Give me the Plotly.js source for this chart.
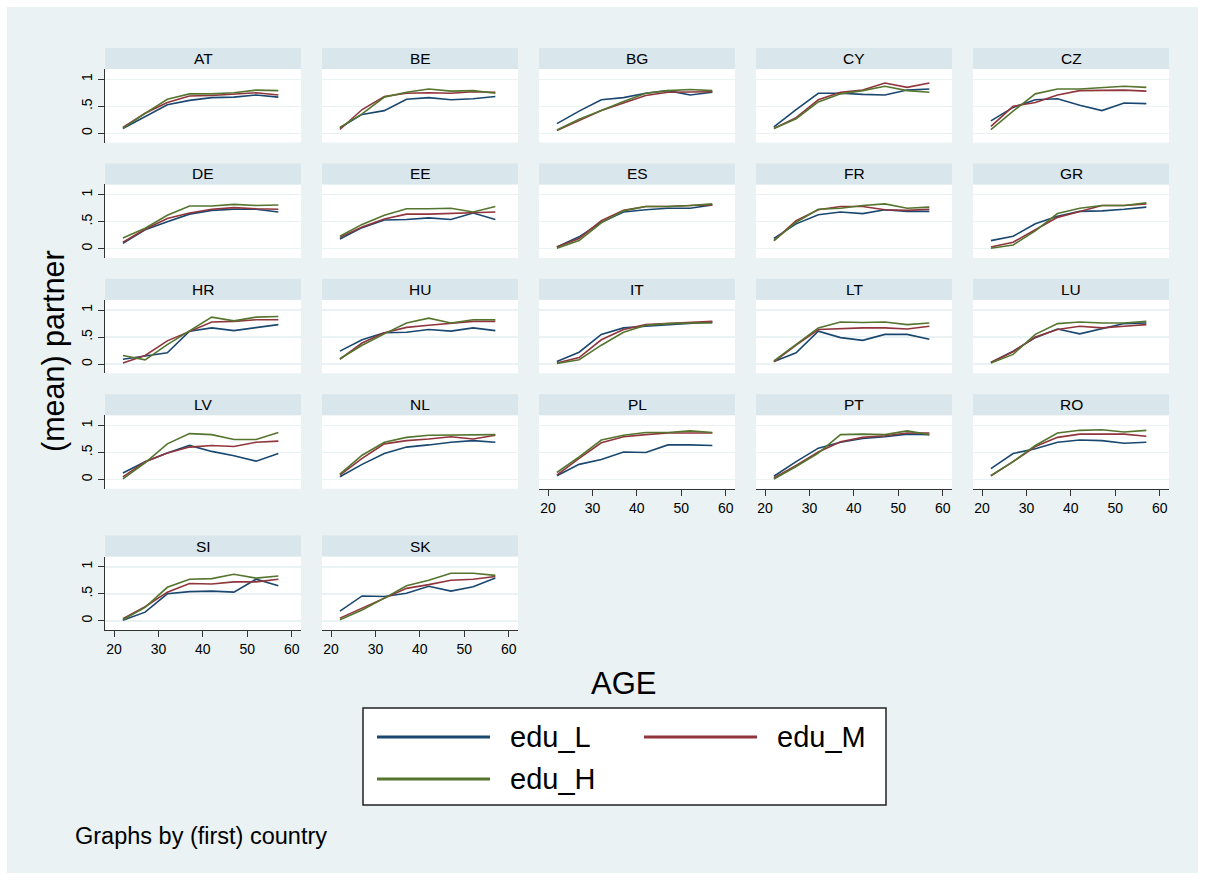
<!DOCTYPE html>
<html><head><meta charset="utf-8">
<script src="https://cdn.plot.ly/plotly-3.0.1.min.js"></script>
<style>html,body{margin:0;padding:0;background:#ffffff;}#chart{position:absolute;left:7px;top:7px;width:1191px;height:866px;}</style>
</head><body><div id="chart"></div>
<script>
// ---- data ----
const ages = [22, 27, 32, 37, 42, 47, 52, 57];
const countries = ['AT','BE','BG','CY','CZ','DE','EE','ES','FR','GR','HR','HU','IT','LT','LU','LV','NL','PL','PT','RO','SI','SK'];
const seriesNames = ['edu_L', 'edu_M', 'edu_H'];
const xTicks = [20, 30, 40, 50, 60];
const yTickVals = [0, 0.5, 1];
const yTickText = ['0', '.5', '1'];

const AT_L = [0.09,0.31,0.53,0.61,0.66,0.67,0.71,0.67];
const AT_M = [0.11,0.37,0.57,0.69,0.70,0.72,0.75,0.71];
const AT_H = [0.09,0.37,0.63,0.73,0.73,0.75,0.80,0.79];
const BE_L = [0.10,0.35,0.42,0.63,0.66,0.62,0.64,0.68];
const BE_M = [0.07,0.44,0.68,0.74,0.75,0.74,0.77,0.76];
const BE_H = [0.11,0.36,0.67,0.76,0.82,0.78,0.79,0.74];
const BG_L = [0.18,0.41,0.62,0.66,0.74,0.79,0.71,0.76];
const BG_M = [0.05,0.23,0.42,0.56,0.70,0.76,0.76,0.77];
const BG_H = [0.06,0.26,0.42,0.59,0.74,0.79,0.81,0.79];
const CY_L = [0.12,0.44,0.74,0.74,0.72,0.71,0.80,0.82];
const CY_M = [0.09,0.29,0.62,0.76,0.80,0.93,0.85,0.93];
const CY_H = [0.09,0.27,0.58,0.73,0.79,0.87,0.79,0.76];
const CZ_L = [0.23,0.48,0.62,0.64,0.52,0.42,0.56,0.55];
const CZ_M = [0.13,0.50,0.57,0.71,0.79,0.79,0.80,0.78];
const CZ_H = [0.07,0.41,0.73,0.82,0.82,0.85,0.87,0.85];
const DE_L = [0.10,0.35,0.50,0.64,0.71,0.73,0.73,0.68];
const DE_M = [0.12,0.36,0.56,0.66,0.73,0.76,0.74,0.73];
const DE_H = [0.20,0.38,0.62,0.79,0.79,0.82,0.80,0.81];
const EE_L = [0.18,0.39,0.53,0.54,0.57,0.54,0.66,0.54];
const EE_M = [0.21,0.40,0.55,0.64,0.64,0.65,0.66,0.68];
const EE_H = [0.23,0.45,0.62,0.74,0.74,0.75,0.68,0.78];
const ES_L = [0.03,0.22,0.49,0.68,0.72,0.75,0.75,0.81];
const ES_M = [0.03,0.19,0.52,0.71,0.78,0.78,0.80,0.81];
const ES_H = [0.01,0.15,0.48,0.70,0.78,0.78,0.80,0.83];
const FR_L = [0.19,0.46,0.63,0.68,0.65,0.72,0.69,0.69];
const FR_M = [0.15,0.52,0.72,0.78,0.78,0.72,0.71,0.73];
const FR_H = [0.15,0.49,0.73,0.75,0.80,0.83,0.75,0.77];
const GR_L = [0.15,0.23,0.46,0.60,0.69,0.70,0.73,0.77];
const GR_M = [0.03,0.12,0.35,0.58,0.69,0.80,0.80,0.83];
const GR_H = [0.01,0.07,0.33,0.65,0.75,0.80,0.80,0.85];
const HR_L = [0.09,0.15,0.21,0.61,0.67,0.62,0.67,0.73];
const HR_M = [0.02,0.16,0.43,0.61,0.78,0.79,0.82,0.82];
const HR_H = [0.16,0.08,0.36,0.62,0.87,0.80,0.87,0.88];
const HU_L = [0.24,0.45,0.58,0.59,0.64,0.61,0.67,0.62];
const HU_M = [0.09,0.39,0.58,0.68,0.72,0.76,0.79,0.79];
const HU_H = [0.10,0.35,0.56,0.76,0.85,0.76,0.82,0.82];
const IT_L = [0.05,0.22,0.55,0.67,0.70,0.73,0.76,0.78];
const IT_M = [0.02,0.12,0.45,0.64,0.73,0.75,0.78,0.79];
const IT_H = [0.01,0.08,0.35,0.59,0.72,0.75,0.76,0.76];
const LT_L = [0.05,0.21,0.61,0.49,0.44,0.55,0.55,0.46];
const LT_M = [0.04,0.35,0.64,0.66,0.67,0.67,0.65,0.70];
const LT_H = [0.06,0.36,0.67,0.78,0.77,0.78,0.73,0.76];
const LU_L = [0.03,0.24,0.49,0.65,0.56,0.65,0.75,0.76];
const LU_M = [0.03,0.23,0.50,0.64,0.70,0.67,0.70,0.73];
const LU_H = [0.02,0.18,0.55,0.75,0.78,0.76,0.76,0.79];
const LV_L = [0.12,0.33,0.49,0.63,0.52,0.44,0.34,0.48];
const LV_M = [0.05,0.33,0.49,0.60,0.63,0.61,0.69,0.71];
const LV_H = [0.01,0.31,0.66,0.85,0.83,0.74,0.74,0.87];
const NL_L = [0.05,0.28,0.48,0.60,0.64,0.69,0.72,0.69];
const NL_M = [0.08,0.39,0.66,0.72,0.75,0.79,0.75,0.82];
const NL_H = [0.10,0.45,0.69,0.78,0.82,0.82,0.82,0.83];
const PL_L = [0.07,0.28,0.37,0.51,0.50,0.64,0.64,0.63];
const PL_M = [0.08,0.39,0.68,0.79,0.83,0.86,0.86,0.86];
const PL_H = [0.13,0.42,0.73,0.82,0.87,0.87,0.90,0.87];
const PT_L = [0.06,0.33,0.58,0.69,0.76,0.79,0.84,0.83];
const PT_M = [0.03,0.26,0.51,0.70,0.78,0.81,0.86,0.86];
const PT_H = [0.01,0.24,0.49,0.83,0.84,0.83,0.90,0.83];
const RO_L = [0.20,0.48,0.57,0.69,0.73,0.72,0.67,0.69];
const RO_M = [0.07,0.33,0.61,0.78,0.84,0.84,0.84,0.80];
const RO_H = [0.07,0.33,0.63,0.86,0.91,0.92,0.88,0.91];
const SI_L = [0.01,0.16,0.50,0.54,0.55,0.53,0.77,0.65];
const SI_M = [0.04,0.26,0.53,0.69,0.68,0.72,0.72,0.77];
const SI_H = [0.02,0.25,0.62,0.77,0.78,0.86,0.79,0.83];
const SK_L = [0.18,0.46,0.45,0.51,0.64,0.55,0.63,0.79];
const SK_M = [0.05,0.23,0.42,0.60,0.67,0.75,0.77,0.82];
const SK_H = [0.02,0.20,0.42,0.65,0.75,0.88,0.88,0.84];

const byCountry = {
  AT:[AT_L,AT_M,AT_H], BE:[BE_L,BE_M,BE_H], BG:[BG_L,BG_M,BG_H], CY:[CY_L,CY_M,CY_H], CZ:[CZ_L,CZ_M,CZ_H],
  DE:[DE_L,DE_M,DE_H], EE:[EE_L,EE_M,EE_H], ES:[ES_L,ES_M,ES_H], FR:[FR_L,FR_M,FR_H], GR:[GR_L,GR_M,GR_H],
  HR:[HR_L,HR_M,HR_H], HU:[HU_L,HU_M,HU_H], IT:[IT_L,IT_M,IT_H], LT:[LT_L,LT_M,LT_H], LU:[LU_L,LU_M,LU_H],
  LV:[LV_L,LV_M,LV_H], NL:[NL_L,NL_M,NL_H], PL:[PL_L,PL_M,PL_H], PT:[PT_L,PT_M,PT_H], RO:[RO_L,RO_M,RO_H],
  SI:[SI_L,SI_M,SI_H], SK:[SK_L,SK_M,SK_H]
};

// ---- styling / layout ----
const colors = ['#1a476f', '#90353b', '#55752f'];
const W = 1191, H = 866, OFF = 7;
const FONT = 'Liberation Sans, Arial, sans-serif';
const colLeft = [105, 322, 539, 756, 973];
const rowTop = [69, 184.4, 299.8, 415.2, 556.5];
const pw = 196, ph = 73.5, hdr = 21;
const bottomPanels = new Set([17, 18, 19, 20, 21]);
const px = v => (v - OFF) / W;
const py = v => 1 - (v - OFF) / H;

const traces = [];
const layout = {
  width: W, height: H,
  margin: {l: 0, r: 0, t: 0, b: 0, pad: 0},
  paper_bgcolor: '#eaf2f3',
  plot_bgcolor: '#ffffff',
  showlegend: false,
  font: {family: FONT, color: '#000'},
  shapes: [],
  annotations: []
};

countries.forEach((c, i) => {
  const r = Math.floor(i / 5), col = i % 5;
  const sfx = i === 0 ? '' : String(i + 1);
  const x0 = colLeft[col], y0 = rowTop[r];
  const showX = bottomPanels.has(i);
  layout['xaxis' + sfx] = {
    domain: [px(x0), px(x0 + pw)],
    anchor: 'y' + sfx,
    range: [17.97, 62.1],
    showgrid: false, zeroline: false,
    showline: showX, linecolor: '#333', linewidth: 1,
    ticks: showX ? 'outside' : '', ticklen: 6, tickcolor: '#333', tickwidth: 1,
    tickvals: xTicks, showticklabels: showX,
    tickfont: {family: FONT, size: 14, color: '#000'}
  };
  const showY = col === 0;
  layout['yaxis' + sfx] = {
    domain: [py(y0 + ph), py(y0)],
    anchor: 'x' + sfx,
    range: [-0.17, 1.19],
    showgrid: true, gridcolor: '#eaf2f3', gridwidth: 1.5, zeroline: false,
    showline: showY, linecolor: '#333', linewidth: 1,
    ticks: showY ? 'outside' : '', ticklen: 6, tickcolor: '#333', tickwidth: 1,
    tickvals: yTickVals, ticktext: yTickText, showticklabels: showY, tickangle: -90,
    tickfont: {family: FONT, size: 14, color: '#000'}
  };
  byCountry[c].forEach((vals, s) => {
    traces.push({
      type: 'scatter', mode: 'lines', x: ages, y: vals,
      xaxis: 'x' + sfx, yaxis: 'y' + sfx,
      name: seriesNames[s], line: {color: colors[s], width: 1.6},
      hoverinfo: 'x+y+name'
    });
  });
  // header strip
  layout.shapes.push({
    type: 'rect', xref: 'paper', yref: 'paper',
    x0: px(x0), x1: px(x0 + pw), y0: py(y0), y1: py(y0 - hdr),
    fillcolor: '#d9e6eb', line: {width: 0}
  });
  layout.annotations.push({
    xref: 'paper', yref: 'paper', x: px(x0 + pw / 2), y: py(y0 - hdr / 2),
    xanchor: 'center', yanchor: 'middle', showarrow: false,
    text: c, font: {family: FONT, size: 15.5, color: '#000'}
  });
});

// axis titles & note
layout.annotations.push({
  xref: 'paper', yref: 'paper', x: px(54), y: py(351), xanchor: 'center', yanchor: 'middle',
  showarrow: false, textangle: -90, text: '(mean) partner', font: {family: FONT, size: 30.5, color: '#000'}
});
layout.annotations.push({
  xref: 'paper', yref: 'paper', x: px(623), y: py(683), xanchor: 'center', yanchor: 'middle',
  showarrow: false, text: 'AGE', font: {family: FONT, size: 31, color: '#000'}
});
layout.annotations.push({
  xref: 'paper', yref: 'paper', x: px(73), y: py(836), xanchor: 'left', yanchor: 'middle',
  showarrow: false, text: 'Graphs by (first) country', font: {family: FONT, size: 23.5, color: '#000'}
});

// legend box
layout.shapes.push({
  type: 'rect', xref: 'paper', yref: 'paper',
  x0: px(363), x1: px(886), y0: py(805), y1: py(708),
  fillcolor: '#ffffff', line: {color: '#222', width: 1.5}
});
const legendItems = [
  {lx: 377, ty: 737, tx: 508},
  {lx: 644, ty: 737, tx: 775},
  {lx: 377, ty: 779, tx: 508}
];
legendItems.forEach((it, s) => {
  layout.shapes.push({
    type: 'line', xref: 'paper', yref: 'paper',
    x0: px(it.lx), x1: px(it.lx + 113), y0: py(it.ty), y1: py(it.ty),
    line: {color: colors[s], width: 3}
  });
  layout.annotations.push({
    xref: 'paper', yref: 'paper', x: px(it.tx), y: py(it.ty), xanchor: 'left', yanchor: 'middle',
    showarrow: false, text: seriesNames[s], font: {family: FONT, size: 29, color: '#000'}
  });
});

Plotly.newPlot('chart', traces, layout, {displayModeBar: false, staticPlot: true});
</script>
</body></html>
